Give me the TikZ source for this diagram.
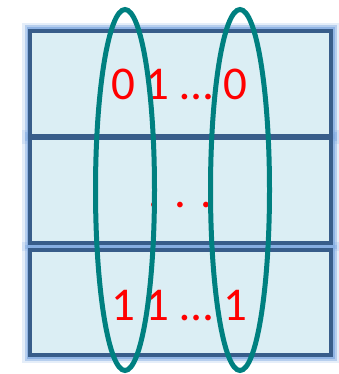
\documentclass[tikz,border=0pt]{standalone}
\usepackage{fontspec}
\setmainfont{Carlito}
\usetikzlibrary{shapes.geometric,backgrounds}
\definecolor{bordc}{HTML}{385D8A}
\definecolor{fillc}{HTML}{DBEEF4}
\definecolor{glowc}{HTML}{7FA9E0}
\definecolor{tealc}{HTML}{008080}
\tikzset{
  rowbox/.style={rectangle, draw=bordc, fill=fillc, line width=4.5pt, outer sep=0pt,
    inner sep=0pt, minimum width=301pt, minimum height=105pt},
  glowa/.style={draw=glowc, line width=16pt, opacity=0.2},
  glowb/.style={draw=glowc, line width=11pt, opacity=0.45},
  glowc/.style={draw=glowc, line width=7pt, opacity=0.7},
  bits/.style={text=red, font=\fontsize{47}{50}\selectfont, anchor=base, inner sep=0pt},
  ring/.style={ellipse, draw=tealc, line width=5pt, inner sep=0pt,
    minimum width=59pt, minimum height=361pt}
}
\begin{document}
\begin{tikzpicture}[x=1pt,y=-1pt]
\useasboundingbox (0,0) rectangle (338,374);
\node[rowbox] (r1) at (180.5,83.5) {};
\node[rowbox] (r2) at (180.5,190.5) {};
\node[rowbox] (r3) at (180.5,302.5) {};
\begin{scope}[on background layer]
  \foreach \r in {r1,r2,r3}{
    \draw[glowa] (\r.north west) rectangle (\r.south east);
    \draw[glowb] (\r.north west) rectangle (\r.south east);
    \draw[glowc] (\r.north west) rectangle (\r.south east);
  }
\end{scope}
\node[bits] (t1) at (179,100) {0 1 … 0};
\node[bits] (t2) at (180,207) {. . .};
\node[bits] (t3) at (179,320) {1 1 … 1};
\node[ring] (e1) at (125,190) {};
\node[ring] (e2) at (240,190) {};
\end{tikzpicture}
\end{document}
